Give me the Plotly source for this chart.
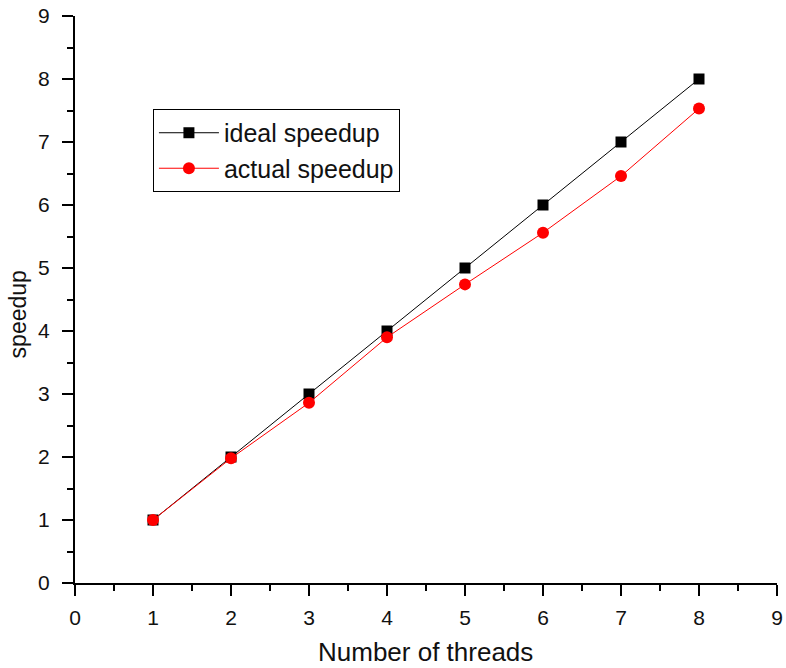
import plotly.graph_objects as go

threads = [1, 2, 3, 4, 5, 6, 7, 8]
ideal_speedup = [1, 2, 3, 4, 5, 6, 7, 8]
actual_speedup = [1.0, 1.98, 2.86, 3.90, 4.74, 5.56, 6.46, 7.53]
tick_vals = [0, 1, 2, 3, 4, 5, 6, 7, 8, 9]

FONT = "Liberation Sans, Arial, sans-serif"

fig = go.Figure()
fig.add_trace(go.Scatter(
    x=threads, y=ideal_speedup, mode="lines+markers", name="ideal speedup",
    line=dict(color="black", width=1),
    marker=dict(symbol="square", size=11, color="black"),
))
fig.add_trace(go.Scatter(
    x=threads, y=actual_speedup, mode="lines+markers", name="actual speedup",
    line=dict(color="red", width=1),
    marker=dict(symbol="circle", size=12, color="red"),
))

axis_common = dict(
    range=[0, 9], tickvals=tick_vals, showgrid=False, zeroline=False,
    showline=True, linecolor="black", linewidth=2, automargin=False,
    ticks="outside", ticklen=11, tickwidth=2, tickcolor="black",
    minor=dict(dtick=0.5, ticks="outside", ticklen=6, tickwidth=2, tickcolor="black", showgrid=False),
    tickfont=dict(size=21, color="#111111", family=FONT),
)

fig.update_layout(
    width=786, height=668,
    margin=dict(l=75, r=9, t=16, b=85),
    paper_bgcolor="white", plot_bgcolor="white",
    font=dict(family=FONT, color="black"),
    xaxis=dict(**axis_common, ticklabelstandoff=4),
    yaxis=dict(**axis_common, ticklabelstandoff=8),
    legend=dict(
        x=0.111, y=0.836, xanchor="left", yanchor="top",
        bordercolor="black", borderwidth=1, bgcolor="white",
        font=dict(size=25, color="#111111", family=FONT), itemwidth=60, tracegroupgap=0,
    ),
    annotations=[
        dict(text="Number of threads", xref="paper", yref="paper",
             x=0.499, y=-0.121, xanchor="center", yanchor="middle",
             showarrow=False, font=dict(size=26, color="#111111", family=FONT)),
        dict(text="speedup", xref="paper", yref="paper",
             x=-0.081, y=0.474, xanchor="center", yanchor="middle", textangle=-90,
             showarrow=False, font=dict(size=23, color="#111111", family=FONT)),
    ],
    showlegend=True,
)

# remove the browser's default 8px body margin so the figure sits at the page corner
fig.write_html("out.html", config={"displayModeBar": False},
               post_script="document.body.style.margin='0';")
